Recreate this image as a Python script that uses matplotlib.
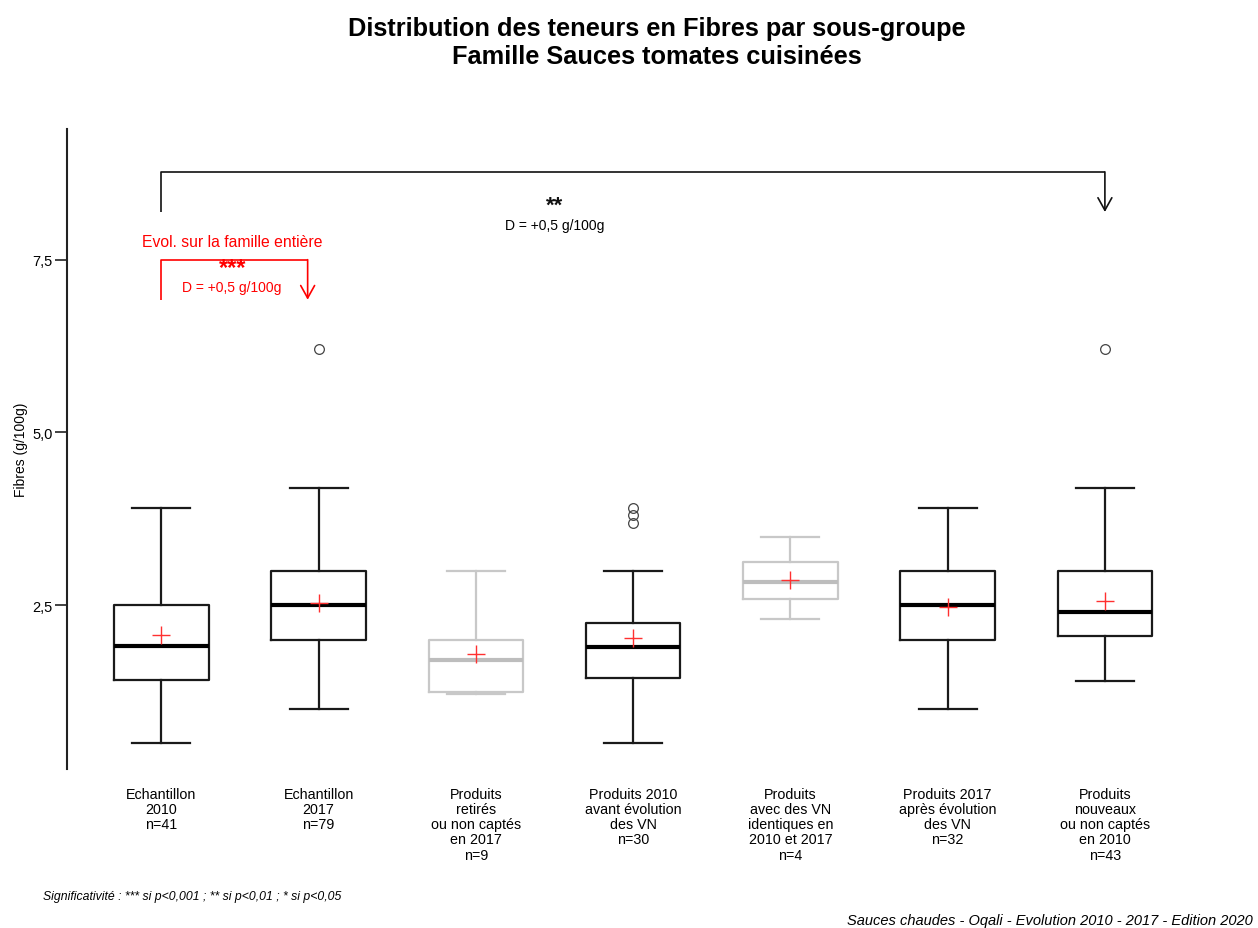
import matplotlib
matplotlib.use("Agg")
import matplotlib.pyplot as plt

plt.rcParams['font.family'] = ['Liberation Sans', 'DejaVu Sans']

# ---- data ----
categories = ["Echantillon\n2010", "Echantillon\n2017", "Produits\nretirés\nou non captés\nen 2017",
              "Produits 2010\navant évolution\ndes VN", "Produits\navec des VN\nidentiques en\n2010 et 2017",
              "Produits 2017\naprès évolution\ndes VN", "Produits\nnouveaux\nou non captés\nen 2010"]
n_values = [41, 79, 9, 30, 4, 32, 43]
whislo = [0.5, 1.0, 1.21, 0.5, 2.3, 1.0, 1.4]
q1 = [1.41, 2.0, 1.245, 1.44, 2.59, 2.0, 2.05]
medians = [1.91, 2.5, 1.7, 1.9, 2.84, 2.5, 2.4]
q3 = [2.5, 3.0, 2.0, 2.24, 3.12, 3.0, 3.0]
whishi = [3.9, 4.2, 3.0, 3.0, 3.49, 3.9, 4.2]
means = [2.07, 2.53, 1.80, 2.03, 2.86, 2.47, 2.56]
fliers = [[], [6.2], [], [3.69, 3.8, 3.9], [], [], [6.2]]
small_sample = [False, False, True, False, True, False, False]

yticks = [2.5, 5.0, 7.5]
yticklabels = ["2,5", "5,0", "7,5"]

# ---- figure ----
fig = plt.figure(figsize=(12.58, 9.29), dpi=100)
ax = fig.add_axes([0.0533, 0.171, 0.900, 0.689])

positions = list(range(1, len(categories) + 1))
for i, pos in enumerate(positions):
    stats = [dict(whislo=whislo[i], q1=q1[i], med=medians[i], q3=q3[i], whishi=whishi[i],
                  mean=means[i], fliers=fliers[i])]
    col = '#c8c8c8' if small_sample[i] else '#1a1a1a'
    ax.bxp(stats, positions=[pos], widths=0.6, capwidths=0.37, showmeans=True,
           boxprops=dict(color=col, linewidth=1.6),
           whiskerprops=dict(color=col, linewidth=1.6),
           capprops=dict(color=col, linewidth=1.6),
           medianprops=dict(color=('#bdbdbd' if small_sample[i] else 'black'), linewidth=3.0),
           meanprops=dict(marker='+', markeredgecolor='#ff3030', markersize=13, markeredgewidth=1.0,
                          linestyle='none'),
           flierprops=dict(marker='o', markerfacecolor='none', markeredgecolor='#444444',
                           markersize=7, markeredgewidth=0.9))

ax.set_xlim(0.4, 7.6)
ax.set_ylim(0.127, 9.39)
ax.set_yticks(yticks)
ax.set_yticklabels(yticklabels, fontsize=10.5)
ax.tick_params(axis='y', length=8.5, width=1.3, color='#333333', pad=2)
xlabels = [f"{c}\nn={n}" for c, n in zip(categories, n_values)]
ax.set_xticks(positions)
ax.set_xticklabels(xlabels, fontsize=10.3, va='top')
ax.tick_params(axis='x', length=0, pad=13)
for lbl in ax.get_xticklabels():
    lbl.set_linespacing(1.1)
for s in ['top', 'right', 'bottom']:
    ax.spines[s].set_visible(False)
ax.spines['left'].set_linewidth(1.5)
ax.spines['left'].set_color('#222222')
ax.set_ylabel("Fibres (g/100g)", fontsize=10, labelpad=3)

# ---- significance annotations ----
arrow_style = '->,head_length=0.9,head_width=0.5'
# whole-family bracket (black)
bx0, bx1, by_low, by_top = 1, 7, 8.19, 8.77
ax.plot([bx0, bx0, bx1], [by_low, by_top, by_top], color='#111111', lw=1.2, solid_capstyle='butt')
ax.annotate('', xy=(bx1, by_low), xytext=(bx1, by_top),
            arrowprops=dict(arrowstyle=arrow_style, color='#111111', lw=1.2, shrinkA=0, shrinkB=0))
ax.text(3.5, 8.13, "**", ha='center', va='bottom', fontsize=16, fontweight='bold', color='#111111')
ax.text(3.5, 8.0, "D = +0,5 g/100g", ha='center', va='center', fontsize=10, color='black')

# red bracket
rx0, rx1, ry_low, ry_top = 1, 1.93, 6.92, 7.5
ax.plot([rx0, rx0, rx1], [ry_low, ry_top, ry_top], color='red', lw=1.2, solid_capstyle='butt')
ax.annotate('', xy=(rx1, ry_low), xytext=(rx1, ry_top),
            arrowprops=dict(arrowstyle=arrow_style, color='red', lw=1.2, shrinkA=0, shrinkB=0))
ax.text(1.45, 7.77, "Evol. sur la famille entière", ha='center', va='center', fontsize=11.3, color='red')
ax.text(1.45, 7.22, "***", ha='center', va='bottom', fontsize=17, fontweight='bold', color='red')
ax.text(1.45, 7.10, "D = +0,5 g/100g", ha='center', va='center', fontsize=10, color='red')

# ---- titles and notes ----
fig.text(0.522, 1 - 29 / 929, "Distribution des teneurs en Fibres par sous-groupe",
         ha='center', va='center', fontsize=18.3, fontweight='bold')
fig.text(0.522, 1 - 57 / 929, "Famille Sauces tomates cuisinées",
         ha='center', va='center', fontsize=18.3, fontweight='bold')
fig.text(43 / 1258, 1 - 897 / 929, "Significativité : *** si p<0,001 ; ** si p<0,01 ; * si p<0,05",
         ha='left', va='center', fontsize=8.8, style='italic')
fig.text(1253 / 1258, 1 - 921 / 929, "Sauces chaudes - Oqali - Evolution 2010 - 2017 - Edition 2020",
         ha='right', va='center', fontsize=10.5, style='italic')

fig.savefig("out.png", dpi=100)
